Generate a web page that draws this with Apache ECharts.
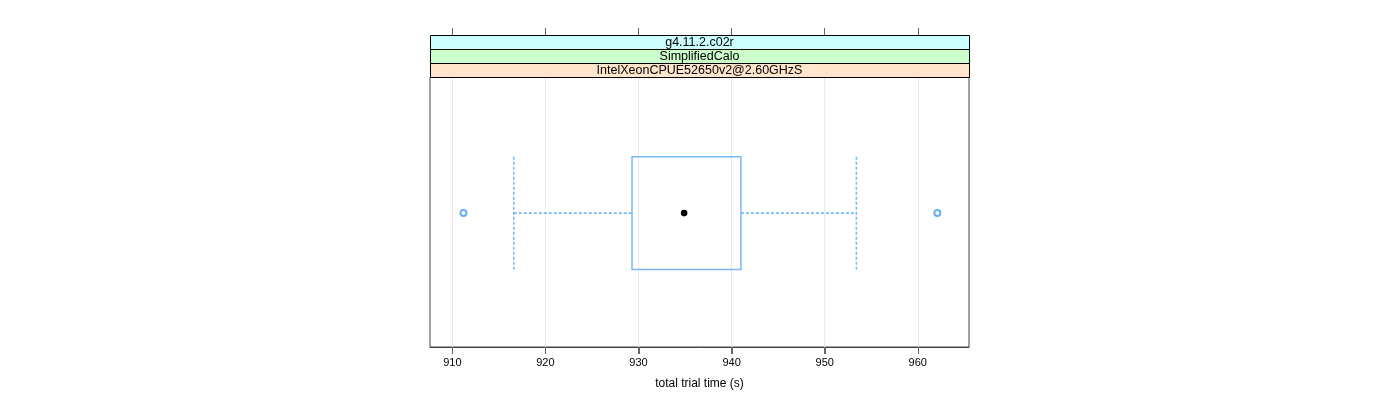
<!DOCTYPE html>
<html>
<head>
<meta charset="utf-8">
<style>
html,body{margin:0;padding:0;background:#fff;}
#chart{width:1400px;height:400px;}
</style>
<script src="https://cdn.jsdelivr.net/npm/echarts@6/dist/echarts.min.js"></script>
</head>
<body>
<div id="chart"></div>
<script>
// ---- data ----
var stripLabels = ['g4.11.2.c02r', 'SimplifiedCalo', 'IntelXeonCPUE52650v2@2.60GHzS'];
var boxStats = [916.6, 929.3, 934.9, 941.0, 953.4]; // low whisker, Q1, median, Q3, high whisker
var outliers = [911.2, 962.1];
var tickValues = [910, 920, 930, 940, 950, 960];
var xRange = [907.6, 965.5];
var axisTitle = 'total trial time (s)';

var FONT = 'Liberation Sans, Arial, sans-serif';
var BOX_COLOR = '#7ab9f7';
var PT_COLOR = '#3d9bff';
var Y_CENTER = 0.496;
var BOX_HALF = 0.2085;

var chart = echarts.init(document.getElementById('chart'));

var L = 430, R = 969, T = 77, B = 347;
var stripH = 14;
var stripColors = ['#ccffff', '#ccffcc', '#ffe5cc'];
var graphics = [];
stripLabels.forEach(function (s, i) {
  var y = T - stripH * (stripLabels.length - i);
  graphics.push({
    type: 'rect', z: 10,
    shape: {x: L + 0.5, y: y + 0.5, width: R - L, height: stripH},
    style: {fill: stripColors[i], stroke: '#000', lineWidth: 1}
  });
  graphics.push({
    type: 'text', z: 11,
    x: (L + R) / 2, y: y + stripH / 2 + 0.5,
    style: {text: s, font: '12.5px ' + FONT, fill: '#000', align: 'center', verticalAlign: 'middle'}
  });
});

chart.setOption({
  animation: false,
  backgroundColor: '#fff',
  grid: {left: L, right: 1400 - R, top: T, bottom: 400 - B, show: true, borderColor: '#444', borderWidth: 1, backgroundColor: 'transparent'},
  graphic: graphics,
  xAxis: [{
    type: 'value', min: xRange[0], max: xRange[1], position: 'bottom',
    name: axisTitle, nameLocation: 'middle', nameGap: 31,
    nameTextStyle: {fontFamily: FONT, fontSize: 12, color: '#000'},
    axisLine: {show: true, onZero: false, lineStyle: {color: '#444', width: 1}},
    axisTick: {show: true, inside: false, length: 7, lineStyle: {color: '#666'}, customValues: tickValues},
    axisLabel: {show: true, margin: 10, fontFamily: FONT, fontSize: 11, color: '#000', customValues: tickValues},
    splitLine: {show: true, lineStyle: {color: '#e8e8e8', width: 1}}
  }, {
    type: 'value', min: xRange[0], max: xRange[1], position: 'top', offset: stripH * stripLabels.length,
    axisLine: {show: false, onZero: false},
    axisTick: {show: true, inside: false, length: 7, lineStyle: {color: '#666'}, customValues: tickValues},
    axisLabel: {show: false, customValues: tickValues},
    splitLine: {show: false}
  }],
  yAxis: {type: 'value', min: 0, max: 1, show: false, splitLine: {show: false}},
  series: [{
    type: 'custom',
    xAxisIndex: 0,
    data: [boxStats],
    encode: {x: [0, 1, 2, 3, 4]},
    renderItem: function (params, api) {
      var lo = api.value(0), q1 = api.value(1), md = api.value(2), q3 = api.value(3), hi = api.value(4);
      var yc = api.coord([md, Y_CENTER])[1];
      var yt = api.coord([md, Y_CENTER + BOX_HALF])[1];
      var yb = api.coord([md, Y_CENTER - BOX_HALF])[1];
      var xlo = api.coord([lo, Y_CENTER])[0], xq1 = api.coord([q1, Y_CENTER])[0], xmd = api.coord([md, Y_CENTER])[0];
      var xq3 = api.coord([q3, Y_CENTER])[0], xhi = api.coord([hi, Y_CENTER])[0];
      var dash = {stroke: BOX_COLOR, lineWidth: 1.6, lineDash: [3, 2], fill: null};
      return {
        type: 'group',
        children: [
          {type: 'line', shape: {x1: xlo, y1: yc, x2: xq1, y2: yc}, style: dash},
          {type: 'line', shape: {x1: xq3, y1: yc, x2: xhi, y2: yc}, style: dash},
          {type: 'line', shape: {x1: xlo, y1: yt, x2: xlo, y2: yb}, style: dash},
          {type: 'line', shape: {x1: xhi, y1: yt, x2: xhi, y2: yb}, style: dash},
          {type: 'rect', shape: {x: xq1, y: yt, width: xq3 - xq1, height: yb - yt},
            style: {stroke: BOX_COLOR, lineWidth: 1.5, fill: null}},
          {type: 'circle', shape: {cx: xmd, cy: yc, r: 3.3}, style: {fill: '#000'}}
        ]
      };
    }
  }, {
    type: 'scatter',
    xAxisIndex: 0,
    symbol: 'emptyCircle',
    symbolSize: 6,
    itemStyle: {color: PT_COLOR, borderColor: PT_COLOR, borderWidth: 1},
    data: outliers.map(function (v) { return [v, Y_CENTER]; })
  }]
});

// bottom axis ticks, positioned through the axis scale
try {
  var tickGfx = tickValues.map(function (v) {
    var px = Math.round(chart.convertToPixel({xAxisIndex: 0}, v)) + 0.5;
    return {type: 'line', z: 100, silent: true,
      shape: {x1: px, y1: B, x2: px, y2: B + 7},
      style: {stroke: '#666', lineWidth: 1}};
  });
  chart.setOption({graphic: graphics.concat(tickGfx)});
} catch (e) {}
</script>
</body>
</html>
